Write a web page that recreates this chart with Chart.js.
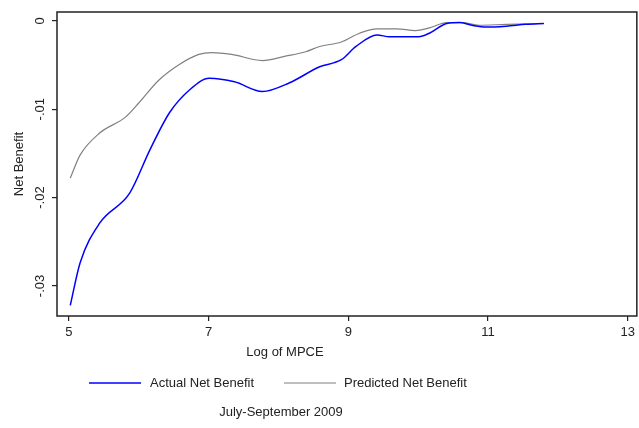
<!DOCTYPE html>
<html>
<head>
<meta charset="utf-8">
<script src="https://cdn.jsdelivr.net/npm/chart.js@4"></script>
<style>
  html, body { margin: 0; padding: 0; background: #fff; }
  #wrap { width: 639px; height: 428px; }
</style>
</head>
<body>
<div id="wrap"><canvas id="chart" width="639" height="428"></canvas></div>
<script>
// values
const actualX = [5.02, 5.16, 5.44, 5.87, 6.16, 6.44, 6.73, 7.01, 7.37, 7.77, 8.16, 8.59, 8.9, 9.11, 9.41, 9.59, 10.01, 10.16, 10.41, 10.59, 10.77, 10.97, 11.26, 11.54, 11.8];
const actualY = [-0.0322, -0.0274, -0.0229, -0.0195, -0.0146, -0.0104, -0.0078, -0.0065, -0.0069, -0.0080, -0.0070, -0.0052, -0.0044, -0.0029, -0.0016, -0.0018, -0.0018, -0.0014, -0.0003, -0.0002, -0.0005, -0.0007, -0.0006, -0.0004, -0.0003];
const predX = [5.02, 5.16, 5.44, 5.81, 6.0, 6.29, 6.57, 6.86, 7.04, 7.33, 7.77, 8.1, 8.39, 8.59, 8.9, 9.16, 9.41, 9.69, 9.96, 10.16, 10.41, 10.63, 10.87, 11.26, 11.8];
const predY = [-0.0178, -0.0152, -0.0127, -0.0109, -0.0093, -0.0067, -0.0050, -0.0038, -0.0036, -0.0038, -0.0045, -0.0040, -0.0035, -0.0029, -0.0024, -0.0014, -0.0009, -0.0009, -0.0011, -0.0008, -0.0002, -0.0002, -0.0005, -0.0004, -0.0003];
const xTicks = [5, 7, 9, 11, 13];
const yTicks = [0, -0.01, -0.02, -0.03];
const seriesNames = ['Actual Net Benefit', 'Predicted Net Benefit'];

const FONT = '"Liberation Sans", Arial, sans-serif';
const INK = '#222';

function toPoints(xs, ys) {
    return xs.map((x, i) => ({ x: x, y: ys[i] }));
}

function fmtY(v) {
    if (v === 0) return '0';
    return v.toFixed(2).replace('0.', '.');
}

// frame, rotated y labels, titles, legend, caption
const decor = {
    id: 'decor',
    afterDraw(chart) {
        const ctx = chart.ctx;
        const a = chart.chartArea;
        const ys = chart.scales.y;
        ctx.save();
        ctx.strokeStyle = INK;
        ctx.lineWidth = 1.5;
        ctx.strokeRect(a.left, a.top, a.right - a.left, a.bottom - a.top);

        ctx.fillStyle = INK;
        ctx.font = '13px ' + FONT;
        ctx.textAlign = 'center';
        ctx.textBaseline = 'middle';
        ys.ticks.forEach(t => {
            const py = ys.getPixelForValue(t.value);
            ctx.save();
            ctx.translate(40, py);
            ctx.rotate(-Math.PI / 2);
            ctx.fillText(fmtY(t.value), 0, 0);
            ctx.restore();
        });

        ctx.save();
        ctx.translate(19, (a.top + a.bottom) / 2);
        ctx.rotate(-Math.PI / 2);
        ctx.fillText('Net Benefit', 0, 0);
        ctx.restore();

        ctx.fillText('Log of MPCE', 285, 352);

        // legend
        const ly = 383;
        ctx.lineWidth = 1.5;
        ctx.strokeStyle = '#0000ff';
        ctx.beginPath(); ctx.moveTo(89, ly); ctx.lineTo(141, ly); ctx.stroke();
        ctx.strokeStyle = '#808080';
        ctx.lineWidth = 1.2;
        ctx.beginPath(); ctx.moveTo(284, ly); ctx.lineTo(336, ly); ctx.stroke();
        ctx.textAlign = 'left';
        ctx.fillText(seriesNames[0], 150, ly);
        ctx.fillText(seriesNames[1], 344, ly);

        ctx.textAlign = 'center';
        ctx.fillText('July-September 2009', 281, 412);
        ctx.restore();
    }
};

new Chart(document.getElementById('chart'), {
    type: 'line',
    data: {
        datasets: [{
            label: seriesNames[0],
            data: toPoints(actualX, actualY),
            borderColor: '#0000ff',
            borderWidth: 1.5,
            pointRadius: 0,
            tension: 0.4,
            cubicInterpolationMode: 'monotone',
            fill: false
        }, {
            label: seriesNames[1],
            data: toPoints(predX, predY),
            borderColor: '#808080',
            borderWidth: 1.2,
            pointRadius: 0,
            tension: 0.4,
            cubicInterpolationMode: 'monotone',
            fill: false
        }]
    },
    options: {
        responsive: false,
        animation: false,
        devicePixelRatio: 1,
        layout: { padding: { top: 12, right: 1, left: 0, bottom: 0 } },
        plugins: {
            legend: { display: false },
            tooltip: { enabled: false }
        },
        scales: {
            x: {
                type: 'linear',
                min: 4.83,
                max: 13.13,
                afterBuildTicks: s => { s.ticks = xTicks.map(v => ({ value: v })); },
                afterFit: s => { s.height = 112; },
                grid: { drawOnChartArea: false, tickLength: 5, color: INK, lineWidth: 1.2 },
                border: { display: false },
                ticks: { color: INK, font: { family: FONT, size: 13 }, padding: 4, maxRotation: 0 }
            },
            y: {
                type: 'linear',
                min: -0.0334,
                max: 0.001,
                afterBuildTicks: s => { s.ticks = yTicks.map(v => ({ value: v })); },
                afterFit: s => { s.width = 57; },
                grid: { drawOnChartArea: false, tickLength: 5, color: INK, lineWidth: 1.2 },
                border: { display: false },
                ticks: { display: false }
            }
        }
    },
    plugins: [decor]
});
</script>
</body>
</html>
